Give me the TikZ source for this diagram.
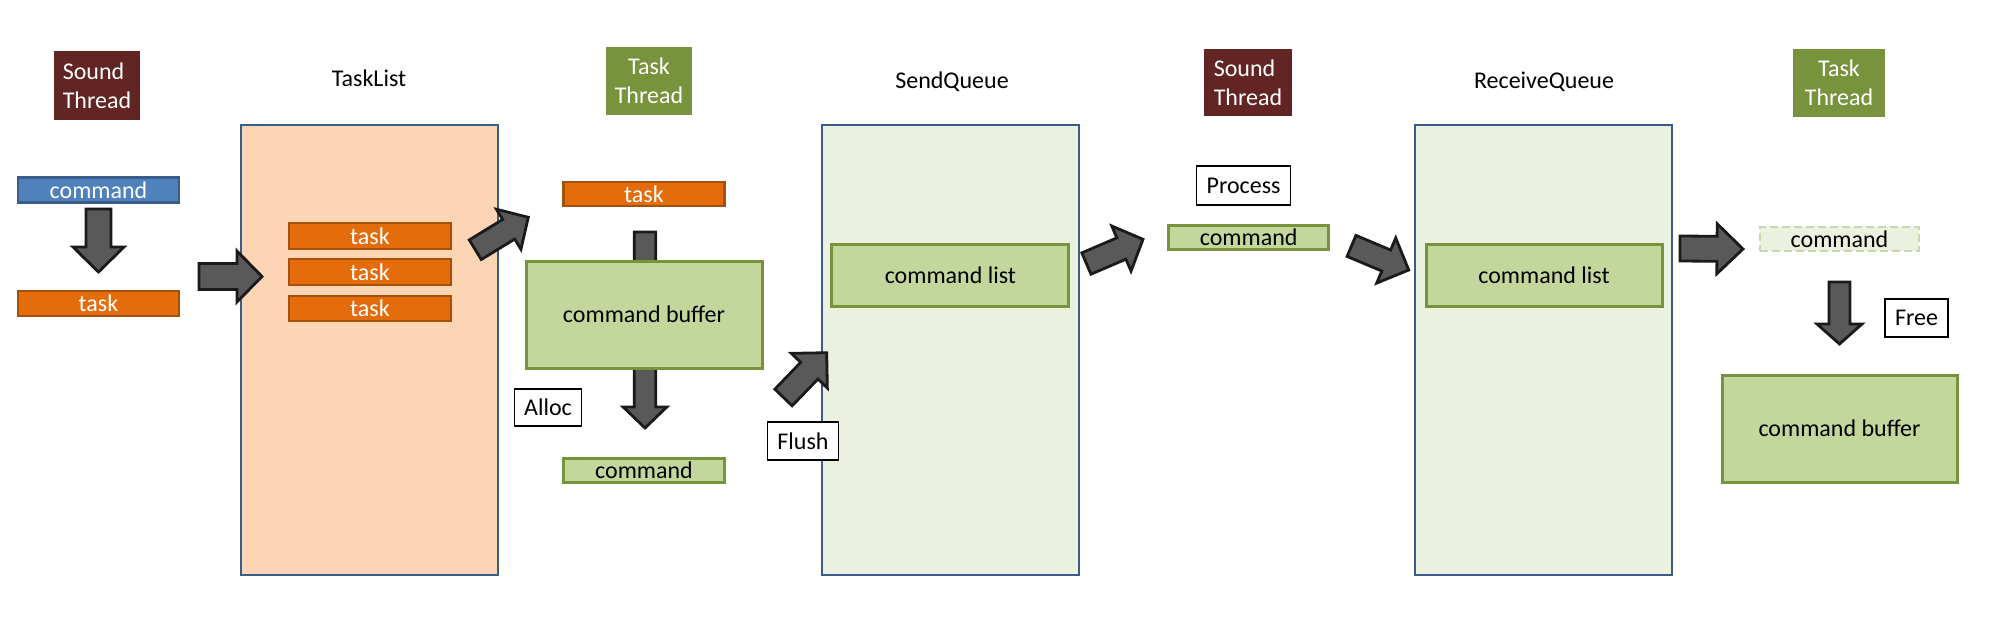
\documentclass[tikz,border=0pt]{standalone}
\usepackage{fontspec}
\setmainfont{Carlito}
\usetikzlibrary{calc}
\definecolor{soundred}{HTML}{632523}
\definecolor{taskgreen}{HTML}{77933C}
\definecolor{cmdblue}{HTML}{4F81BD}
\definecolor{cmdblueborder}{HTML}{385D8A}
\definecolor{taskorange}{HTML}{E46C0A}
\definecolor{taskborder}{HTML}{A5510C}
\definecolor{tasklistfill}{HTML}{FCD5B5}
\definecolor{queuefill}{HTML}{EBF1DE}
\definecolor{contblue}{HTML}{385D8A}
\definecolor{greenfill}{HTML}{C3D69B}
\definecolor{greenborder}{HTML}{77933C}
\definecolor{arrowgray}{HTML}{595959}
\definecolor{arrowborder}{HTML}{1A1A1A}
\definecolor{dashgreen}{HTML}{C9D8AE}
\tikzset{
  txt/.style={font=\fontsize{12}{14.5}\selectfont, inner sep=0pt},
  thread/.style={txt, fill=#1, text=white},
  heading/.style={txt},
  container/.style={txt, draw=contblue, line width=0.6pt, fill=#1, minimum width=128.5pt, minimum height=225pt},
  bar/.style={txt, minimum width=80.5pt, minimum height=12.5pt, line width=1.2pt},
  taskbar/.style={bar, fill=taskorange, draw=taskborder, text=white},
  cmdbar/.style={bar, fill=greenfill, draw=greenborder, line width=1.5pt},
  bluebar/.style={bar, fill=cmdblue, draw=cmdblueborder, text=white},
  dashbar/.style={bar, fill=queuefill, draw=dashgreen, dash pattern=on 4pt off 2pt, line width=1.2pt},
  greenbox/.style={txt, fill=greenfill, draw=greenborder, line width=1.5pt},
  labelbox/.style={txt, draw=black, fill=white, line width=0.6pt},
  fatarrowstyle/.style={fill=arrowgray, draw=arrowborder, line width=1.4pt, line join=miter},
}
% #1 tail coordinate, #2 tip coordinate, #3 shaft half width, #4 head half width, #5 head length
\newcommand\blockarrow[5]{%
  \coordinate (#2-base) at ($(#2)!#5!(#1)$);
  \draw[fatarrowstyle] ($(#1)!#3!90:(#2)$) -- ($(#2-base)!#3!90:(#2)$) -- ($(#2-base)!#4!90:(#2)$) -- (#2)
    -- ($(#2-base)!#4!-90:(#2)$) -- ($(#2-base)!#3!-90:(#2)$) -- ($(#1)!#3!-90:(#2)$) -- cycle;
}
\begin{document}
\begin{tikzpicture}[x=0.5pt,y=-0.5pt]
\useasboundingbox[fill=white] (0,0) rectangle (1999,632);

% thread tags
\node[thread=soundred, minimum width=43pt, minimum height=34.5pt, align=left] (st1) at (97,85.5) {Sound\\Thread};
\node[thread=taskgreen, minimum width=43pt, minimum height=34pt, align=center] (tt1) at (649,81) {Task\\Thread};
\node[thread=soundred, minimum width=44pt, minimum height=33.5pt, align=left] (st2) at (1248,82.5) {Sound\\Thread};
\node[thread=taskgreen, minimum width=46pt, minimum height=34pt, align=center] (tt2) at (1839,83) {Task\\Thread};

% headings
\node[heading] (hTL) at (369,78) {TaskList};
\node[heading] (hSQ) at (952,82) {SendQueue};
\node[heading] (hRQ) at (1544,82) {ReceiveQueue};

% containers
\node[container=tasklistfill] (tasklist) at (369.5,350) {};
\node[container=queuefill] (sendq) at (950.5,350) {};
\node[container=queuefill] (recvq) at (1543.5,350) {};

% arrow behind command buffer (task thread column)
\coordinate (a4t) at (645,232);
\coordinate (a4h) at (645,428);
\blockarrow{a4t}{a4h}{5.4pt}{10.9pt}{10.5pt}

% first column
\node[bluebar] (cmdA) at (98.5,190) {command};
\node[taskbar] (taskA) at (98.5,303.5) {task};

% tasklist
\node[taskbar, minimum width=81pt, minimum height=13pt] (taskB1) at (370,236) {task};
\node[taskbar, minimum width=81pt, minimum height=13pt] (taskB2) at (370,272) {task};
\node[taskbar, minimum width=81pt, minimum height=12.5pt] (taskB3) at (370,308.5) {task};

% task thread column
\node[taskbar, minimum height=12pt] (taskC) at (644,194) {task};
\node[greenbox, minimum width=118pt, minimum height=53.5pt] (cmdbufA) at (644,314.5) {command buffer};
\node[cmdbar, minimum height=12pt] (cmdC) at (644,470) {command};
\node[labelbox, minimum width=33.5pt, minimum height=18.5pt] (alloc) at (548,407.5) {Alloc};
\node[labelbox, minimum width=35.5pt, minimum height=19pt] (flush) at (803,441) {Flush};

% send queue
\node[greenbox, minimum width=118.5pt, minimum height=31pt] (cmdlistA) at (950.4,275) {command list};

% sound thread column
\node[labelbox, minimum width=47pt, minimum height=19.5pt] (process) at (1243.6,185.5) {Process};
\node[cmdbar, minimum width=80pt, minimum height=12pt] (cmdD) at (1248.7,237) {command};

% receive queue
\node[greenbox, minimum width=118pt, minimum height=31pt] (cmdlistB) at (1544,275) {command list};

% last column
\node[dashbar, minimum width=79.5pt, minimum height=12pt] (cmdE) at (1839.5,239) {command};
\node[labelbox, minimum width=31.5pt, minimum height=19pt] (free) at (1916.5,318) {Free};
\node[greenbox, minimum width=117.5pt, minimum height=53.5pt] (cmdbufB) at (1839.5,428.5) {command buffer};

% block arrows
\coordinate (a1t) at (98.5,209);   \coordinate (a1h) at (98.5,272);
\blockarrow{a1t}{a1h}{6.25pt}{12.75pt}{12.5pt}
\coordinate (a2t) at (199,276.5);  \coordinate (a2h) at (262,276.5);
\blockarrow{a2t}{a2h}{6.5pt}{12.75pt}{12.5pt}
\coordinate (a3t) at (475.3,249.7); \coordinate (a3h) at (528.3,217.3);
\blockarrow{a3t}{a3h}{5.75pt}{11.75pt}{11.5pt}
\coordinate (a5t) at (783.5,397.5); \coordinate (a5h) at (826.7,352.7);
\blockarrow{a5t}{a5h}{6pt}{12.5pt}{12.5pt}
\coordinate (a6t) at (1086.4,263.5); \coordinate (a6h) at (1143,239.3);
\blockarrow{a6t}{a6h}{5.8pt}{12.25pt}{11.75pt}
\coordinate (a7t) at (1351.5,245.9); \coordinate (a7h) at (1408.7,270);
\blockarrow{a7t}{a7h}{5.7pt}{12.25pt}{12.2pt}
\coordinate (a8t) at (1680,248.5); \coordinate (a8h) at (1743,249);
\blockarrow{a8t}{a8h}{6.25pt}{12.5pt}{13pt}
\coordinate (a9t) at (1839.5,282); \coordinate (a9h) at (1839.5,344);
\blockarrow{a9t}{a9h}{5.25pt}{11.25pt}{10pt}
\end{tikzpicture}
\end{document}
